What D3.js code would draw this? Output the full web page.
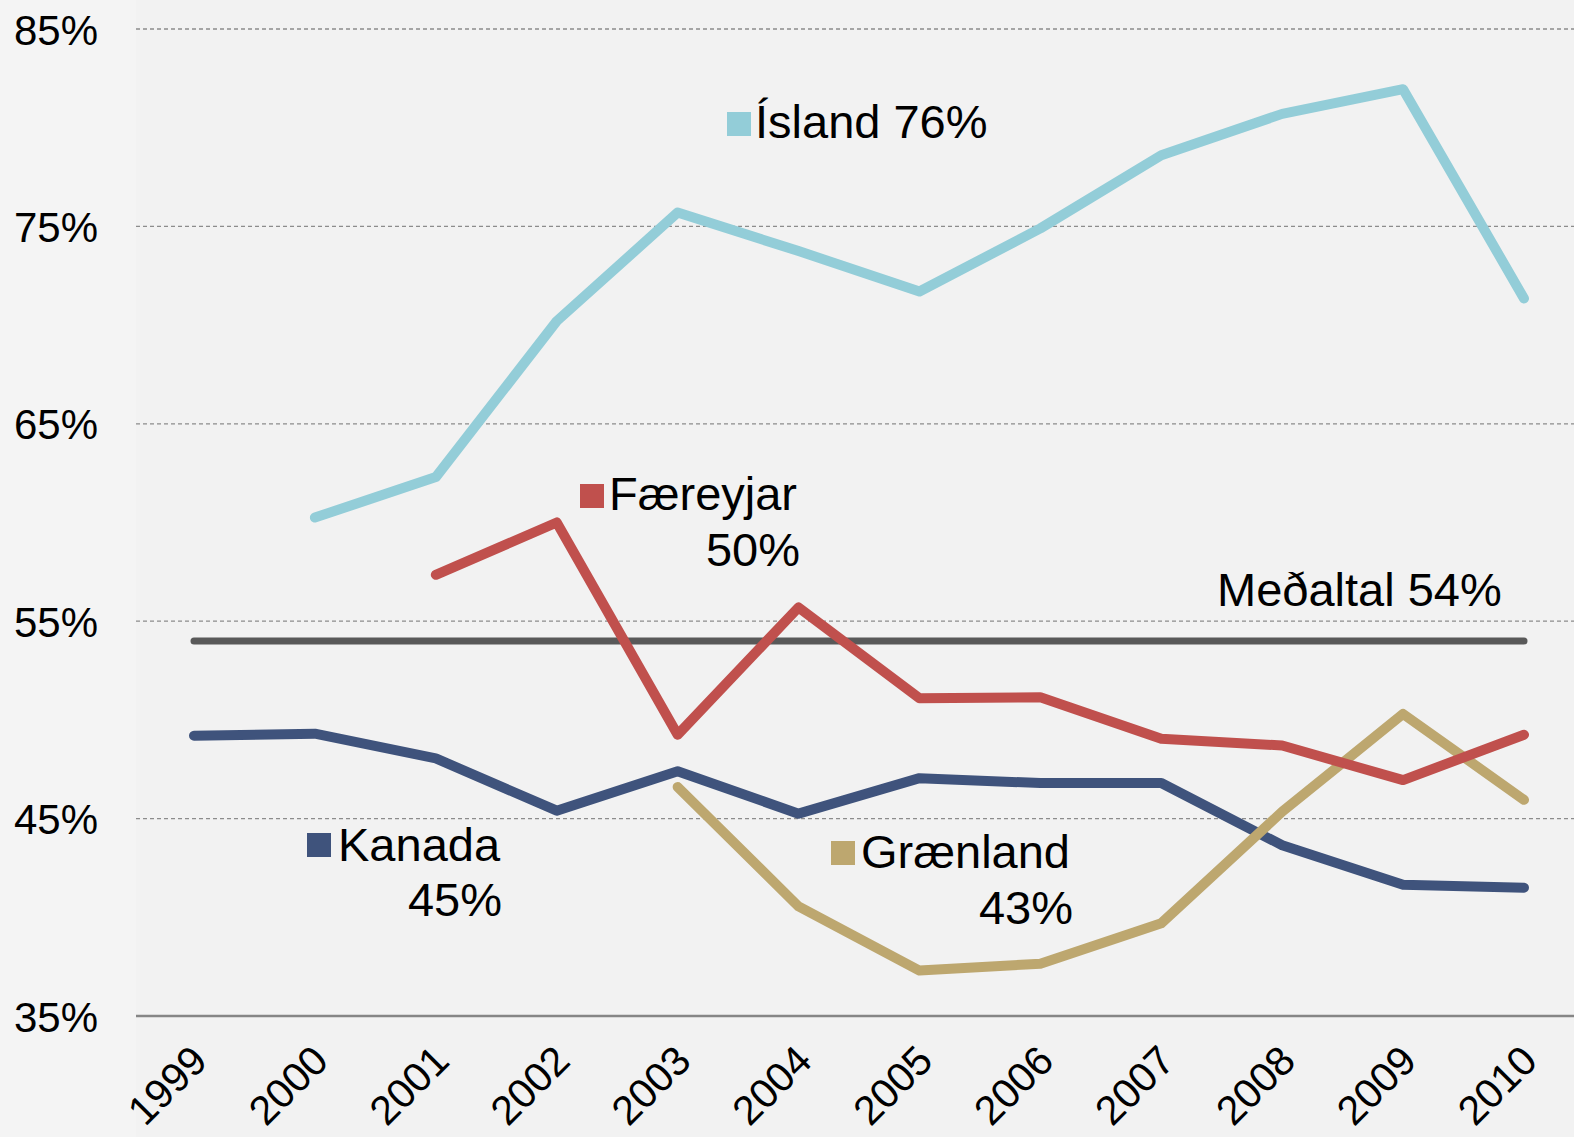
<!DOCTYPE html>
<html>
<head>
<meta charset="utf-8">
<script src="https://cdn.jsdelivr.net/npm/d3@7"></script>
<style>
  html, body { margin: 0; padding: 0; background: #f2f2f2; }
  svg { display: block; font-family: "Liberation Sans", Arial, sans-serif; }
</style>
</head>
<body>
<svg class="chart" width="1574" height="1137"></svg>
<script>
const years = [1999, 2000, 2001, 2002, 2003, 2004, 2005, 2006, 2007, 2008, 2009, 2010];
const yTicks = [35, 45, 55, 65, 75, 85];

// values in percent, null where the series has no data
const island = [null, 60.25, 62.3, 70.2, 75.7, 73.75, 71.7, 74.9, 78.6, 80.7, 81.95, 71.35];
const faereyjar = [null, null, 57.35, 60.0, 49.25, 55.7, 51.1, 51.15, 49.05, 48.7, 46.95, 49.25];
const kanada = [49.2, 49.3, 48.05, 45.4, 47.4, 45.25, 47.05, 46.8, 46.8, 43.65, 41.65, 41.5];
const graenland = [null, null, null, null, 46.6, 40.55, 37.3, 37.65, 39.7, 45.35, 50.3, 45.95];
const medaltal = years.map(() => 54);

const seriesNames = ['Meðaltal', 'Kanada', 'Grænland', 'Færeyjar', 'Ísland'];
const seriesValues = [medaltal, kanada, graenland, faereyjar, island];
const seriesColors = ['#595959', '#3f537c', '#bda76f', '#c0504d', '#93cdd8'];

const startApp = () => {
  const viewBox = { width: 1574, height: 1137 };
  const plot = { left: 136, right: 1574, top: 29, bottom: 1016 };

  const xScale = d3.scalePoint().domain(years).range([194, 1524]);
  const yScale = d3.scaleLinear().domain([35, 85]).range([plot.bottom, plot.top]);

  const chart = d3.select('.chart')
    .attr('viewBox', `0 0 ${viewBox.width} ${viewBox.height}`);

  // faint left band like the slide background
  chart.append('rect')
    .attr('x', 0).attr('y', 0)
    .attr('width', plot.left).attr('height', viewBox.height)
    .attr('fill', '#f4f4f4');

  // gridlines
  chart.append('g')
    .selectAll('line')
    .data(yTicks.filter(t => t > 35))
    .enter()
    .append('line')
    .attr('x1', plot.left)
    .attr('x2', plot.right)
    .attr('y1', t => yScale(t))
    .attr('y2', t => yScale(t))
    .attr('stroke', '#8c8c8c')
    .attr('stroke-width', 1.3)
    .attr('stroke-dasharray', '4,3');

  // y axis labels
  const yAxis = d3.axisLeft(yScale)
    .tickValues(yTicks)
    .tickSize(0)
    .tickPadding(0)
    .tickFormat(d => `${d}%`);
  const yAxisG = chart.append('g')
    .attr('transform', 'translate(98, 0)')
    .call(yAxis);
  yAxisG.select('.domain').remove();
  yAxisG.selectAll('text')
    .attr('font-size', 42)
    .attr('fill', '#000')
    .attr('dy', '0.36em')
    .style('font-family', '"Liberation Sans", Arial, sans-serif');

  // x axis
  const xAxis = d3.axisBottom(xScale).tickSize(0).tickPadding(0);
  const xAxisG = chart.append('g')
    .attr('transform', `translate(0, ${plot.bottom})`)
    .call(xAxis);
  xAxisG.select('.domain').remove();
  xAxisG.selectAll('text')
    .attr('font-size', 41)
    .attr('fill', '#000')
    .attr('text-anchor', 'end')
    .attr('y', 0)
    .attr('dy', 0)
    .attr('transform', 'translate(15, 47) rotate(-45)')
    .style('font-family', '"Liberation Sans", Arial, sans-serif');

  chart.append('line')
    .attr('x1', plot.left)
    .attr('x2', plot.right)
    .attr('y1', plot.bottom)
    .attr('y2', plot.bottom)
    .attr('stroke', '#868686')
    .attr('stroke-width', 2.5);

  // series lines
  const line = d3.line()
    .defined(d => d.value !== null)
    .x(d => xScale(d.year))
    .y(d => yScale(d.value));

  seriesValues.forEach((values, i) => {
    const points = years.map((year, j) => ({ year, value: values[j] }));
    chart.append('path')
      .datum(points)
      .attr('d', line)
      .attr('fill', 'none')
      .attr('stroke', seriesColors[i])
      .attr('stroke-width', i === 0 ? 7 : 10)
      .attr('stroke-linecap', 'round')
      .attr('stroke-linejoin', 'round');
  });

  // in-plot labels
  const labels = [
    { name: 'Ísland', color: seriesColors[4], sq: [727, 112], lines: [['Ísland 76%', 755, 138, 'start']] },
    { name: 'Færeyjar', color: seriesColors[3], sq: [580, 484], lines: [['Færeyjar', 609, 510, 'start'], ['50%', 800, 566, 'end']] },
    { name: 'Kanada', color: seriesColors[1], sq: [307, 833], lines: [['Kanada', 338, 861, 'start'], ['45%', 502, 916, 'end']] },
    { name: 'Grænland', color: seriesColors[2], sq: [831, 841], lines: [['Grænland', 861, 868, 'start'], ['43%', 1073, 924, 'end']] },
    { name: 'Meðaltal', color: null, sq: null, lines: [['Meðaltal 54%', 1217, 606, 'start']] },
  ];

  labels.forEach(lab => {
    if (lab.sq) {
      chart.append('rect')
        .attr('x', lab.sq[0])
        .attr('y', lab.sq[1])
        .attr('width', 24)
        .attr('height', 24)
        .attr('fill', lab.color);
    }
    lab.lines.forEach(([txt, x, y, anchor]) => {
      chart.append('text')
        .attr('x', x)
        .attr('y', y)
        .attr('text-anchor', anchor)
        .attr('font-size', 47)
        .attr('fill', '#000')
        .text(txt);
    });
  });
};

window.onload = startApp;
</script>
</body>
</html>
